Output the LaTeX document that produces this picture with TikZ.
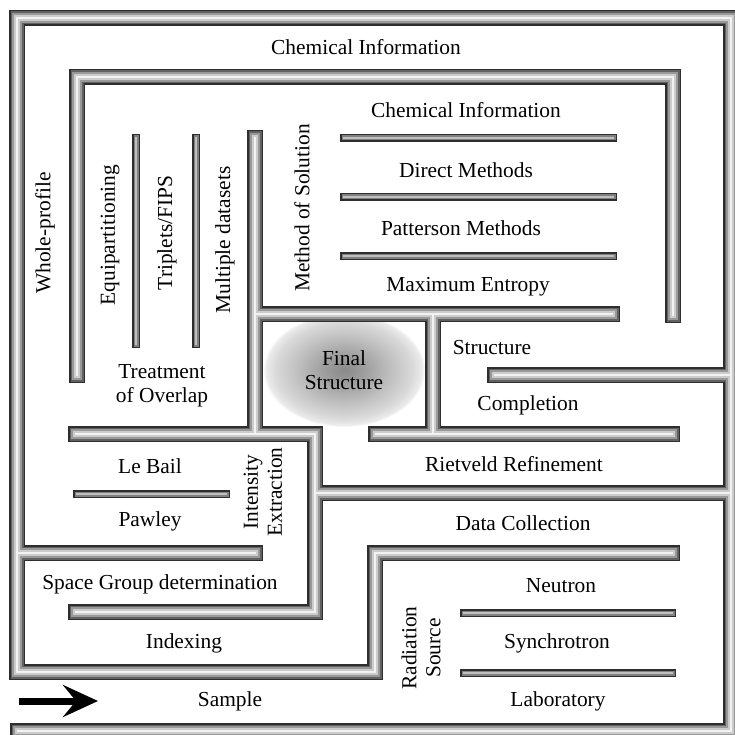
\documentclass[tikz,border=0pt]{standalone}
\usepackage{fontspec}
\setmainfont{Liberation Serif}
\usepackage{tikz}
\usetikzlibrary{arrows.meta,shapes.geometric}
\tikzset{>=Stealth}
\tikzset{
  muro/.style={line cap=rect, line join=miter},
  texto/.style={font=\fontsize{21.4}{24}\selectfont, inner sep=0pt, align=center},
  vertical/.style={texto, rotate=90},
}
\pgfdeclareradialshading{nucleo}{\pgfpoint{0bp}{0bp}}{color(0bp)=(black!46); color(7bp)=(black!37); color(15bp)=(black!24); color(21bp)=(black!15); color(24bp)=(black!8); color(25bp)=(white); color(50bp)=(white)}

\begin{document}
\begin{tikzpicture}[x=1pt, y=-1pt] % coordenadas en pixeles
\clip (0,0) rectangle (735,735);
\fill[white] (0,0) rectangle (735,735);

% Estructura final
\node[texto, ellipse, shade, shading=nucleo, minimum width=162pt, minimum height=114pt] (final) at (344,370) {Final\\Structure};

% Muros gruesos (capas de gris)
\foreach \w/\col in {16/black!82, 13/black!62, 10/black!40, 6/black!20, 2.5/black!5}{
  \draw[muro, line width=\w pt, draw=\col] (672,553) -- (375,553) -- (375,672) -- (17,672) -- (17,18) -- (731,18) -- (731,731) -- (18,731);
  \draw[muro, line width=\w pt, draw=\col] (17,553) -- (255,553);
  \draw[muro, line width=\w pt, draw=\col] (495,375) -- (731,375);
  \draw[muro, line width=\w pt, draw=\col] (315,493) -- (731,493);
  \draw[muro, line width=\w pt, draw=\col] (77,375) -- (77,77) -- (673,77) -- (673,315);
  \draw[muro, line width=\w pt, draw=\col] (255,138) -- (255,434);
  \draw[muro, line width=\w pt, draw=\col] (255,314) -- (612,314);
  \draw[muro, line width=\w pt, draw=\col] (76,434) -- (315,434) -- (315,612) -- (76,612);
  \draw[muro, line width=\w pt, draw=\col] (433,314) -- (433,434);
  \draw[muro, line width=\w pt, draw=\col] (376,434) -- (672,434);
}

% Muros finos
\foreach \w/\col in {8/black!82, 5/black!50, 2/black!25}{
  \foreach \y in {138,197,256}
    \draw[muro, line width=\w pt, draw=\col] (344,\y) -- (613,\y);
  \foreach \x in {136,196}
    \draw[muro, line width=\w pt, draw=\col] (\x,138) -- (\x,344);
  \draw[muro, line width=\w pt, draw=\col] (77,494) -- (226,494);
  \foreach \y in {613,673}
    \draw[muro, line width=\w pt, draw=\col] (464,\y) -- (672,\y);
}

% Entrada
\coordinate (entrada) at (19,701);
\coordinate (punta) at (98,701);
\draw[line width=7pt, -{Stealth[length=35pt, width=32pt, inset=13pt]}] (entrada) -- (punta);

% Textos
\node[texto] (titulo) at (366,47) {Chemical Information};
\node[texto] (quimica) at (466,110) {Chemical Information};
\node[texto] (directos) at (466,170) {Direct Methods};
\node[texto] (patterson) at (461,228) {Patterson Methods};
\node[texto] (entropia) at (468,287) {Maximum Entropy};
\node[vertical] (metodo) at (302,208) {Method of Solution};
\node[vertical] (perfil) at (45,233) {Whole-profile};
\node[vertical] (equip) at (110,235) {Equipartitioning};
\node[vertical] (tripletes) at (167,233) {Triplets/FIPS};
\node[vertical] (multiples) at (225,240) {Multiple datasets};
\node[texto] (solape) at (162,386) {Treatment\\of Overlap};
\node[texto] (estructura) at (492,348) {Structure};
\node[texto] (completar) at (528,405) {Completion};
\node[texto] (rietveld) at (514,464) {Rietveld Refinement};
\node[texto] (lebail) at (150,466) {Le Bail};
\node[texto] (pawley) at (150,521) {Pawley};
\node[vertical] (intensidad) at (263,492) {Intensity\\Extraction};
\node[texto] (grupo) at (160,584) {Space Group determination};
\node[texto] (indexado) at (184,643) {Indexing};
\node[texto] (muestra) at (230,701) {Sample};
\node[texto] (datos) at (523,523) {Data Collection};
\node[texto] (neutron) at (561,586) {Neutron};
\node[texto] (sincrotron) at (557,643) {Synchrotron};
\node[texto] (laboratorio) at (558,701) {Laboratory};
\node[vertical] (radiacion) at (421,648) {Radiation\\Source};

\end{tikzpicture}
\end{document}
